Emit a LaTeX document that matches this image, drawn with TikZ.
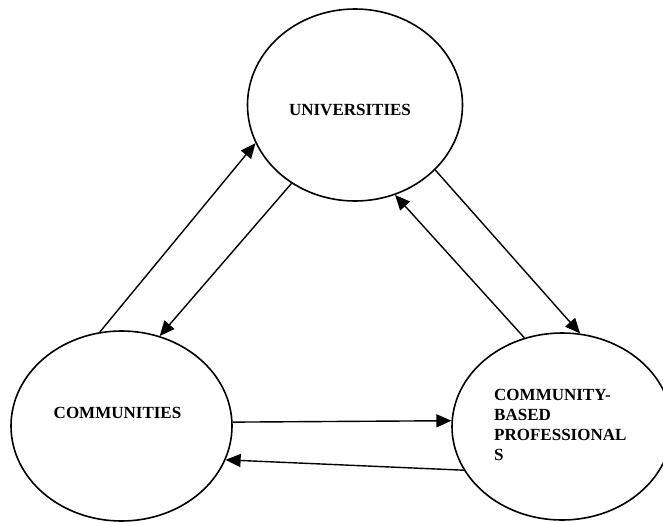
\documentclass[tikz,border=0pt]{standalone}
\usepackage{fontspec}
\setmainfont{Liberation Serif}
\usetikzlibrary{arrows.meta, shapes.geometric}

\begin{document}
\begin{tikzpicture}[>={Triangle[length=15pt, width=13pt]}, x=1pt, y=-1pt,
    party/.style={draw, ellipse, line width=1.6pt, inner sep=0pt},
    tag/.style={font=\fontsize{17}{20}\selectfont\bfseries, inner sep=0pt},
    link/.style={->, line width=1.4pt}]
  \useasboundingbox (0,0) rectangle (663,522);

  % Ellipses
  \node[party, minimum width=215pt, minimum height=192pt] (uni) at (355,105) {};
  \node[party, minimum width=221pt, minimum height=190pt] (comm) at (121.5,426) {};
  \node[party, minimum width=220pt, minimum height=187pt] (cbp) at (562,426.5) {};

  % Labels
  \node[tag] (uni-tag) at (350,110) {UNIVERSITIES};
  \node[tag] (comm-tag) at (117.5,413) {COMMUNITIES};
  \node[tag, align=left, anchor=west] (cbp-tag) at (494,425)
    {COMMUNITY-\\BASED\\PROFESSIONAL\\S};

  % Arrows
  \draw[link] (comm.103.2) -- (uni.201);
  \draw[link] (uni.231.1) -- (comm.67.9);
  \draw[link] (uni.321.5) -- (cbp.79.1);
  \draw[link] (cbp.113.2) -- (uni.294.7);
  \draw[link] (comm.2.2) -- (cbp.177.7);
  \draw[link] (cbp.204.5) -- (comm.342.5);
\end{tikzpicture}
\end{document}
